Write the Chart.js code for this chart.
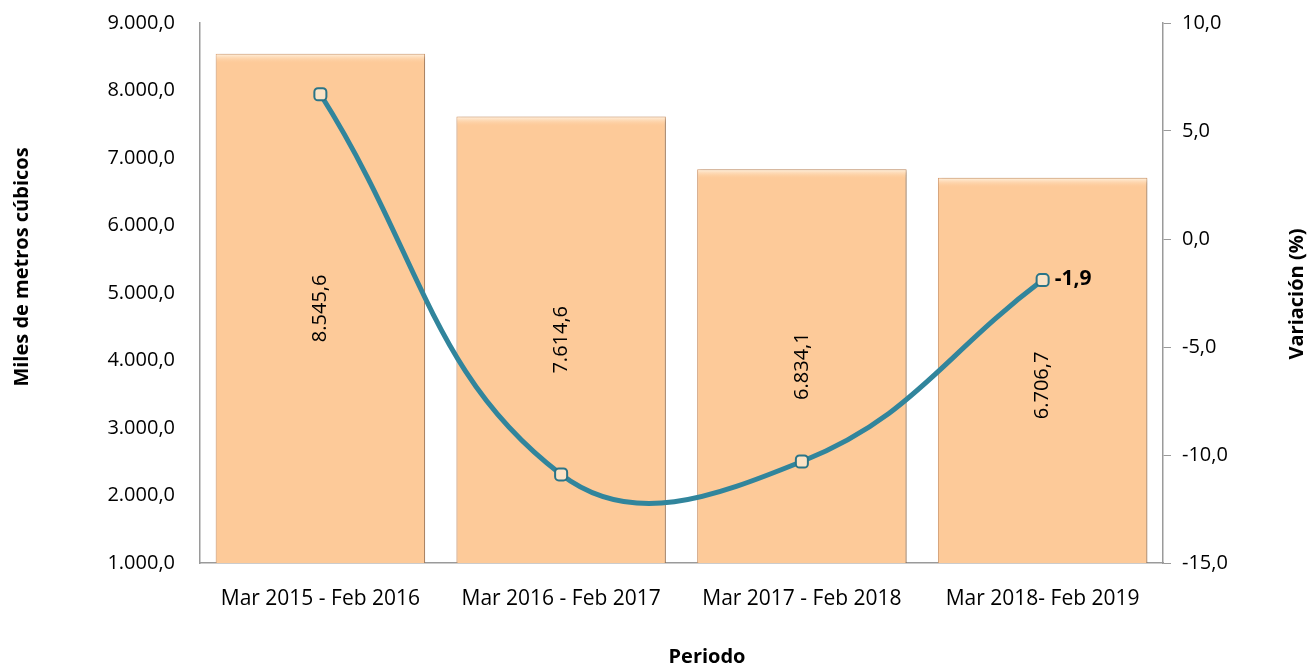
<!DOCTYPE html>
<html>
<head>
<meta charset="utf-8">
<script src="https://cdn.jsdelivr.net/npm/chart.js@4"></script>
<style>
  html, body { margin: 0; padding: 0; background: #fff; }
  #wrap { width: 1315px; height: 666px; }
</style>
</head>
<body>
<div id="wrap"><canvas id="myChart"></canvas></div>
<script>
const periodos = ['Mar 2015 - Feb 2016', 'Mar 2016 - Feb 2017', 'Mar 2017 - Feb 2018', 'Mar 2018- Feb 2019'];
const volumen = [8545.6, 7614.6, 6834.1, 6706.7];
const variacion = [6.7, -10.9, -10.3, -1.9];

// 1234.5 -> "1.234,5"
function fmt(v) {
    const s = Math.abs(v).toFixed(1).split('.');
    const ent = s[0].replace(/\B(?=(\d{3})+(?!\d))/g, '.');
    return (v < 0 ? '-' : '') + ent + ',' + s[1];
}

const fontFam = "'Open Sans', 'Noto Sans', sans-serif";

// etiquetas dentro de las barras, la ultima variacion y titulos de ejes
const etiquetas = {
    id: 'etiquetas',
    afterDatasetsDraw(chart) {
        const c = chart.ctx;
        const area = chart.chartArea;
        const barMeta = chart.getDatasetMeta(1);
        const shift = [0, 0, 0, 15]; // la ultima bajada para no chocar con la linea
        c.save();
        c.fillStyle = '#000';
        c.font = '20px ' + fontFam;
        c.textAlign = 'center';
        c.textBaseline = 'middle';
        barMeta.data.forEach((bar, i) => {
            const cy = (bar.y + area.bottom) / 2 + shift[i];
            c.save();
            c.translate(bar.x, cy);
            c.rotate(-Math.PI / 2);
            c.fillText(fmt(volumen[i]), 0, 0);
            c.restore();
        });
        const lineMeta = chart.getDatasetMeta(0);
        const last = lineMeta.data[lineMeta.data.length - 1];
        c.font = 'bold 21px ' + fontFam;
        c.textAlign = 'left';
        c.fillText(fmt(variacion[variacion.length - 1]), last.x + 12, last.y - 1);

        // titulos de ejes
        c.font = 'bold 20px ' + fontFam;
        c.textAlign = 'center';
        c.fillText('Periodo', 707, 657);
        c.save();
        c.translate(22, 267);
        c.rotate(-Math.PI / 2);
        c.fillText('Miles de metros cúbicos', 0, 0);
        c.restore();
        c.save();
        c.translate(1297, 294);
        c.rotate(-Math.PI / 2);
        c.fillText('Variación (%)', 0, 0);
        c.restore();
        c.restore();
    }
};

// sombra suave y borde superior claro en las barras
const sombra = {
    id: 'sombra',
    beforeDatasetDraw(chart, args) {
        if (args.index !== 1) return;
        const c = chart.ctx;
        c.save();
        c.shadowColor = 'rgba(0,0,0,0.35)';
        c.shadowBlur = 4;
        c.shadowOffsetX = 2;
        c.shadowOffsetY = 1;
    },
    afterDatasetDraw(chart, args) {
        if (args.index !== 1) return;
        const c = chart.ctx;
        c.restore();
        c.save();
        args.meta.data.forEach(bar => {
            const left = bar.x - bar.width / 2 + 1;
            const g = c.createLinearGradient(0, bar.y, 0, bar.y + 10);
            g.addColorStop(0, 'rgba(255,246,232,0.95)');
            g.addColorStop(1, 'rgba(253,202,153,0)');
            c.fillStyle = g;
            c.fillRect(left, bar.y + 1, bar.width - 2, 10);
        });
        c.restore();
    }
};

document.addEventListener('DOMContentLoaded', function () {
    const ctx = document.getElementById('myChart');

    new Chart(ctx, {
        data: {
            labels: periodos,
            datasets: [{
                type: 'line',
                label: 'Variación (%)',
                data: variacion,
                yAxisID: 'y1',
                borderColor: '#31859C',
                borderWidth: 5,
                tension: 0.42,
                pointStyle: 'rectRounded',
                pointRadius: 7,
                pointBackgroundColor: '#FBE3C6',
                pointBorderColor: '#2A7487',
                pointBorderWidth: 2,
                order: 0
            }, {
                type: 'bar',
                label: 'Miles de metros cúbicos',
                data: volumen,
                yAxisID: 'y',
                backgroundColor: '#FDCA99',
                borderColor: '#D9A074',
                borderWidth: 1,
                categoryPercentage: 1,
                barPercentage: 0.87,
                order: 1
            }]
        },
        options: {
            responsive: true,
            maintainAspectRatio: false,
            animation: false,
            layout: { padding: { top: 23, left: 0, right: 0, bottom: 0 } },
            plugins: {
                legend: { display: false },
                tooltip: { enabled: false }
            },
            scales: {
                x: {
                    grid: { display: false, drawTicks: false },
                    border: { display: true, color: '#9a9a9a', width: 1.5 },
                    ticks: {
                        color: '#000',
                        padding: 23,
                        maxRotation: 0,
                        font: { family: fontFam, size: 21 }
                    },
                    afterFit(scale) { scale.height = 103; }
                },
                y: {
                    position: 'left',
                    min: 1000,
                    max: 9000,
                    grid: { display: true, drawOnChartArea: false, drawTicks: true, tickLength: 14, tickColor: 'rgba(0,0,0,0)' },
                    border: { display: true, color: '#9a9a9a', width: 1.5 },
                    ticks: {
                        stepSize: 1000,
                        color: '#000',
                        padding: 11,
                        font: { family: fontFam, size: 20 },
                        callback: v => fmt(v)
                    },
                    afterFit(scale) { scale.width = 200; }
                },
                y1: {
                    position: 'right',
                    min: -15,
                    max: 10,
                    grid: { display: true, drawOnChartArea: false, drawTicks: true, tickLength: 8, color: '#9a9a9a' },
                    border: { display: true, color: '#9a9a9a', width: 1.5 },
                    ticks: {
                        stepSize: 5,
                        color: '#000',
                        padding: 11,
                        font: { family: fontFam, size: 20 },
                        callback: v => fmt(v)
                    },
                    afterFit(scale) { scale.width = 152; }
                }
            }
        },
        plugins: [sombra, etiquetas]
    });
});
</script>
</body>
</html>
